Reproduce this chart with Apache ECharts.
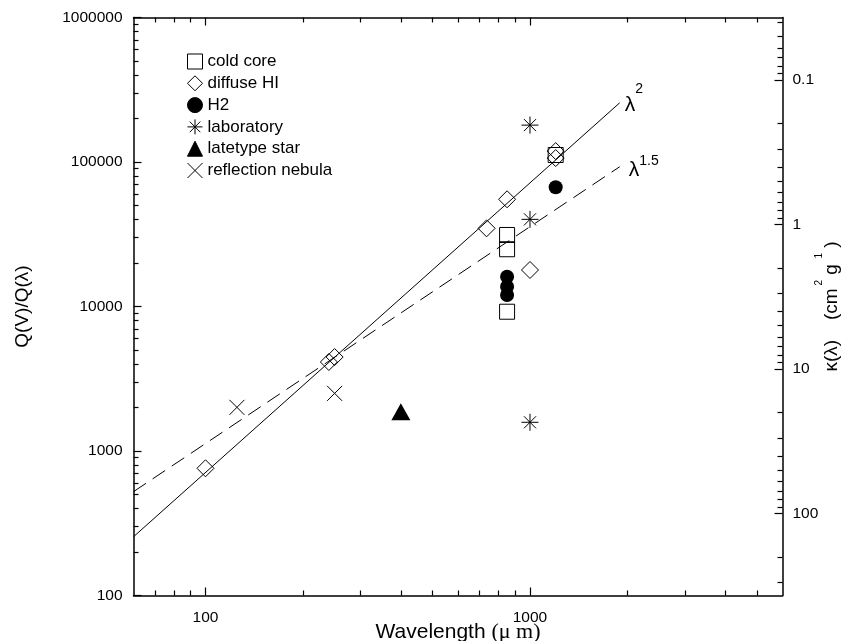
<!DOCTYPE html>
<html><head><meta charset="utf-8">
<script src="https://cdn.jsdelivr.net/npm/echarts@6/dist/echarts.min.js"></script>
<style>html,body{margin:0;padding:0;background:#fff}#c{width:842px;height:641px}</style>
</head><body><div id="c"></div>
<script>
// ---- data (wavelength in micron, Q(V)/Q(lambda)) ----
const coldCore   = [[850, 31260], [850, 24900], [850, 9200], [1200, 111800]];
const diffuseHI  = [[100, 759], [240, 4130], [250, 4470], [735, 34750], [850, 55200], [1000, 17890], [1200, 119000], [1200, 106500]];
const h2         = [[850, 16070], [850, 13700], [850, 12010], [1200, 66800]];
const laboratory = [[1000, 180000], [1000, 40100], [1000, 1580]];
const latetype   = [[400, 1870]];
const reflection = [[125, 2005], [250, 2505]];
const lambda2Line  = [[60, 255], [1891, 257000]];
const lambda15Line = [[60, 523], [1891, 92800]];

// ---- tick values ----
const xMajorTicks = [100, 1000];
const xMinorTicks = [70, 80, 90, 200, 300, 400, 500, 600, 700, 800, 900, 2000, 3000, 4000, 5000];
const yMajorTicks = [100, 1000, 10000, 100000, 1000000];
const yMinorTicks = [200, 300, 400, 500, 600, 700, 800, 900, 2000, 3000, 4000, 5000, 6000, 7000, 8000, 9000,
  20000, 30000, 40000, 50000, 60000, 70000, 80000, 90000, 200000, 300000, 400000, 500000, 600000, 700000, 800000, 900000];
const kappaMajorTicks = [0.1, 1, 10, 100];
const kappaMinorTicks = [0.04, 0.05, 0.06, 0.07, 0.08, 0.09, 0.2, 0.3, 0.4, 0.5, 0.6, 0.7, 0.8, 0.9,
  2, 3, 4, 5, 6, 7, 8, 9, 20, 30, 40, 50, 60, 70, 80, 90, 200, 300];
const xRange = [60, 6000];
const yRange = [100, 1000000];
const kappaRange = [0.03701, 370.1];

const FONT = 'Liberation Sans';
const SERIF = 'Liberation Serif';

function axis(type, position, range, major, minor, opts) {
  opts = opts || {};
  const base = {
    type: 'log', position: position, min: range[0], max: range[1], logBase: 10,
    inverse: !!opts.inverse, splitLine: { show: false }, minorTick: { show: false },
    axisPointer: { show: false }, nameMoveOverlap: false
  };
  const mainAxis = Object.assign({}, base, {
    axisLine: { show: true, onZero: false, lineStyle: { color: '#000', width: 1.5 } },
    axisTick: { show: true, inside: true, length: 8, customValues: major, lineStyle: { color: '#000', width: 1.2 } },
    axisLabel: opts.labels ? { show: true, customValues: major, margin: opts.margin || 10,
      formatter: function (v) { return String(v); }, color: '#000', fontFamily: FONT, fontSize: 15.5 } : { show: false }
  }, opts.extra || {});
  const minorAxis = Object.assign({}, base, {
    axisLine: { show: false },
    axisTick: { show: true, inside: true, length: 5, customValues: minor, lineStyle: { color: '#000', width: 1.2 } },
    axisLabel: { show: false }
  });
  return [mainAxis, minorAxis];
}

const xAxes = [].concat(
  axis('x', 'bottom', xRange, xMajorTicks, xMinorTicks, { labels: true, margin: 14, extra: {
    name: '{a|Wavelength }{b|(μ m)}', nameLocation: 'middle', nameGap: 26,
    nameTextStyle: { rich: { a: { fontFamily: FONT, fontSize: 21, color: '#000' }, b: { fontFamily: SERIF, fontSize: 22, color: '#000' } } }
  } }),
  axis('x', 'top', xRange, xMajorTicks, xMinorTicks, {})
);
const yAxes = [].concat(
  axis('y', 'left', yRange, yMajorTicks, yMinorTicks, { labels: true, margin: 11, extra: {
    name: 'Q(V)/Q(λ)', nameLocation: 'middle', nameGap: 101, nameRotate: 90,
    nameTextStyle: { fontFamily: FONT, fontSize: 19, color: '#000' }
  } }),
  axis('y', 'right', kappaRange, kappaMajorTicks, kappaMinorTicks, { labels: true, margin: 10, inverse: true, extra: {
    name: '{a|κ(λ)}      {a|(cm}{s| 2}{a| g}{s|  1}{a| )}', nameLocation: 'middle', nameGap: 32, nameRotate: 90,
    nameTextStyle: { rich: {
      a: { fontFamily: FONT, fontSize: 19, color: '#000', lineHeight: 27, verticalAlign: 'bottom' },
      s: { fontFamily: FONT, fontSize: 10, color: '#000', lineHeight: 10, verticalAlign: 'top' }
    } }
  } })
);

const hollow = { color: 'transparent', borderColor: '#000', borderWidth: 1, opacity: 1 };
const filled = { color: '#000', borderColor: '#000', borderWidth: 0, opacity: 1 };
const asterisk = 'path://M10,0L10,20M0,10L20,10M2.9,2.9L17.1,17.1M2.9,17.1L17.1,2.9M9.3,9.3L10.7,10.7';
const cross = 'path://M0,0L20,20M0,20L20,0';

function scatter(name, data, symbol, size, style) {
  return { name: name, type: 'scatter', data: data, symbol: symbol, symbolSize: size,
    xAxisIndex: 0, yAxisIndex: 0, itemStyle: style, z: 5, emphasis: { disabled: true } };
}

const series = [
  scatter('cold core', coldCore, 'rect', 15, hollow),
  scatter('diffuse HI', diffuseHI, 'diamond', 17, hollow),
  scatter('H2', h2, 'circle', 14, filled),
  scatter('laboratory', laboratory, asterisk, 17, hollow),
  scatter('latetype star', latetype, 'triangle', [19, 17], filled),
  scatter('reflection nebula', reflection, cross, 15, hollow),
  { type: 'line', data: lambda2Line, xAxisIndex: 0, yAxisIndex: 0, showSymbol: false, symbol: 'none',
    lineStyle: { color: '#000', width: 1 }, z: 3, silent: true,
    endLabel: { show: true, distance: 5, offset: [0, 2], formatter: '{l|λ}{s|2}',
      rich: { l: { fontFamily: FONT, fontSize: 21, color: '#000', lineHeight: 46 },
              s: { fontFamily: FONT, fontSize: 14, color: '#000', lineHeight: 14, verticalAlign: 'top' } } } },
  { type: 'line', data: lambda15Line, xAxisIndex: 0, yAxisIndex: 0, showSymbol: false, symbol: 'none',
    lineStyle: { color: '#000', width: 1, type: [15, 8] }, z: 3, silent: true,
    endLabel: { show: true, distance: 9, offset: [0, 4], formatter: '{l|λ}{s|1.5}',
      rich: { l: { fontFamily: FONT, fontSize: 21, color: '#000', lineHeight: 34 },
              s: { fontFamily: FONT, fontSize: 14, color: '#000', lineHeight: 14, verticalAlign: 'top' } } } }
];

const chart = echarts.init(document.getElementById('c'), null, { renderer: 'canvas' });
chart.setOption({
  animation: false,
  backgroundColor: '#fff',
  grid: { left: 133.5, right: 59.5, top: 17.5, bottom: 45.5, containLabel: false, outerBoundsMode: 'none' },
  xAxis: xAxes,
  yAxis: yAxes,
  legend: {
    data: ['cold core', 'diffuse HI', 'H2', 'laboratory', 'latetype star', 'reflection nebula'],
    orient: 'vertical', left: 187, top: 53, padding: 0, itemWidth: 15, itemHeight: 15, itemGap: 4.8,
    selectedMode: false,
    itemStyle: { borderWidth: 1, borderColor: '#000', opacity: 1 },
    textStyle: { fontFamily: FONT, fontSize: 17, color: '#000' }
  },
  series: series
});
</script>
</body></html>
